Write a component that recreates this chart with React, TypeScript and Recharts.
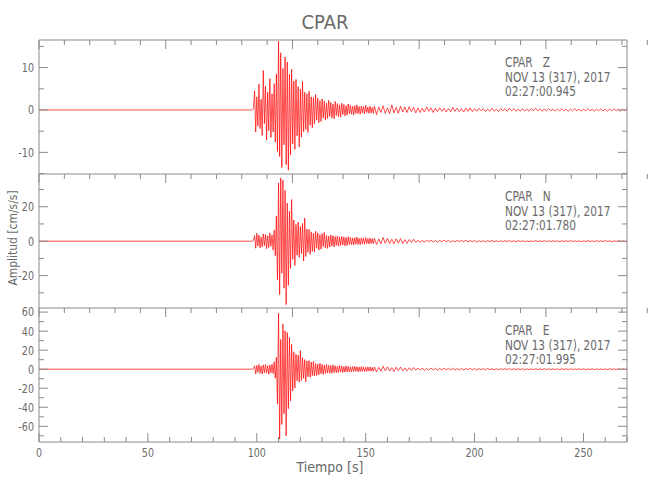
import { Line, LineChart, XAxis, YAxis } from "recharts"

const FONT = "'DejaVu Sans Condensed', 'DejaVu Sans', sans-serif"
const AXIS = "#8a8a8a"
const INK = "#6a6a6a"
const TRACE = "#ff0000"

const STATION = "CPAR"
const DATE_LINE = "NOV 13 (317), 2017"

const X_TICKS = [0, 10, 20, 30, 40, 50, 60, 70, 80, 90, 100, 110, 120, 130, 140, 150, 160, 170, 180, 190, 200, 210, 220, 230, 240, 250, 260, 270]
const X_MAJOR = [0, 50, 100, 150, 200, 250]

// burst: samples every 0.5 s starting at 96.5 s; tail: every 1 s starting at 154 s
const BURST_T0 = 96.5
const BURST_DT = 0.5
const TAIL_T0 = 154
const TAIL_DT = 1

const zBurst = [
  0, 0, 0, 0, 0.3,
  4.5, -5.2, 3.1, -3.8, 6.1, -4.4, 2.5, -6.0, 9.3, -3.2,
  5.6, -7.1, 4.2, -4.9, 7.4, -6.5, 3.8, -5.2, 6.2, -7.6,
  8.5, -9.8, 16.2, -11.0, 13.5, -13.6, 9.8, -8.2, 12.5, -12.9,
  11.3, -14.2, 8.4, -10.6, 9.6, -8.0, 6.8, -9.3, 7.2, -6.1,
  5.5, -8.7, 4.9, -6.4, 6.7, -5.1, 4.2, -4.6, 3.8, -5.3,
  4.4, -3.6, 3.1, -4.2, 2.9, -3.3, 3.6, -2.4, 2.8, -3.0,
  2.2, -2.7, 2.6, -1.9, 2.1, -2.4, 1.6, -2.0, 2.3, -1.5,
  1.8, -1.9, 1.4, -2.1, 2.0, -1.3, 1.5, -1.6, 1.2, -1.7,
  1.6, -1.1, 1.3, -1.4, 1.0, -1.2, 1.4, -0.9, 1.1, -1.0,
  0.9, -1.2, 1.0, -0.8, 1.2, -0.9, 0.8, -1.0, 0.9, -0.7,
  0.8, -0.9, 1.1, -0.6, 0.7, -0.8, 0.9, -0.7, 0.6, -0.8,
]
const zTail = [
  0.9, -1.1, 0.7, -0.6, 1.0, -0.8, 0.5, -0.9, 1.2, -0.7,
  0.6, -0.8, 0.9, -0.5, 0.7, -0.6, 0.8, -0.4, 0.6, -0.7,
  0.5, -0.6, 0.4, -0.5, 0.7, -0.3, 0.5, -0.6, 0.4, -0.4,
  0.5, -0.3, 0.4, -0.5, 0.3, -0.4, 0.6, -0.3, 0.4, -0.4,
  0.3, -0.5, 0.4, -0.3, 0.5, -0.4, 0.3, -0.3, 0.4, -0.2,
  0.3, -0.4, 0.2, -0.3, 0.4, -0.3, 0.2, -0.4, 0.3, -0.2,
  0.3, -0.3, 0.4, -0.2, 0.3, -0.3, 0.2, -0.3, 0.3, -0.2,
  0.2, -0.3, 0.3, -0.2, 0.4, -0.2, 0.3, -0.3, 0.2, -0.2,
  0.3, -0.2, 0.2, -0.3, 0.2, -0.2, 0.3, -0.2, 0.2, -0.3,
  0.2, -0.2, 0.3, -0.2, 0.2, -0.3, 0.2, -0.2, 0.3, -0.2,
  0.2, -0.3, 0.2, -0.2, 0.3, -0.2, 0.2, -0.3, 0.2, -0.2,
  0.3, -0.2, 0.2, -0.3, 0.2, -0.2, 0.3,
]

const nBurst = [
  0, 0, 0, 0, 0.5,
  3.2, -4.1, 4.6, -2.8, 3.5, -3.9, 2.4, -3.3, 4.2, -2.6,
  3.9, -4.4, 3.1, -3.7, 4.8, -2.9, 3.6, -5.2, 6.4, -8.5,
  14.6, -22.4, 33.8, -31.0, 36.7, -18.6, 35.4, -27.3, 29.5, -36.8,
  22.1, -25.6, 17.4, -15.8, 24.2, -10.6, 12.3, -14.1, 9.7, -8.2,
  11.1, -9.4, 8.6, -7.2, 10.3, -11.5, 13.4, -8.9, 7.1, -6.4,
  6.8, -7.7, 5.4, -5.9, 4.6, -6.3, 5.8, -4.1, 4.9, -5.2,
  3.8, -4.6, 4.4, -3.2, 5.1, -3.9, 3.3, -4.2, 2.9, -3.4,
  3.6, -2.8, 3.1, -3.3, 2.7, -2.5, 3.0, -2.9, 2.4, -2.6,
  2.8, -2.2, 2.5, -2.7, 2.1, -2.4, 2.6, -1.9, 2.2, -2.0,
  1.9, -2.3, 2.0, -1.7, 2.4, -1.8, 1.6, -2.1, 1.9, -1.5,
  1.7, -1.8, 2.1, -1.4, 1.5, -1.6, 1.8, -1.3, 1.4, -1.5,
]
const nTail = [
  1.6, -1.9, 1.3, -1.5, 2.1, -1.2, 1.7, -1.4, 1.1, -1.6,
  1.4, -1.1, 1.5, -1.3, 0.9, -1.2, 1.0, -0.8, 1.1, -0.7,
  0.6, -0.8, 0.5, -0.6, 0.7, -0.4, 0.6, -0.5, 0.4, -0.6,
  0.5, -0.4, 0.6, -0.3, 0.4, -0.5, 0.3, -0.4, 0.5, -0.3,
  0.4, -0.3, 0.5, -0.4, 0.3, -0.3, 0.4, -0.5, 0.3, -0.3,
  0.3, -0.4, 0.3, -0.2, 0.4, -0.3, 0.2, -0.3, 0.3, -0.3,
  0.3, -0.2, 0.3, -0.3, 0.2, -0.3, 0.3, -0.2, 0.2, -0.3,
  0.2, -0.3, 0.2, -0.2, 0.3, -0.2, 0.2, -0.2, 0.3, -0.2,
  0.2, -0.2, 0.3, -0.2, 0.2, -0.3, 0.2, -0.2, 0.2, -0.2,
  0.3, -0.2, 0.2, -0.2, 0.2, -0.3, 0.2, -0.2, 0.3, -0.2,
  0.2, -0.2, 0.3, -0.2, 0.2, -0.2, 0.3, -0.2, 0.2, -0.3,
  0.2, -0.2, 0.3, -0.2, 0.2, -0.3, 0.2,
]

const eBurst = [
  0, 0, 0, 0, 0.6,
  3.5, -4.8, 4.1, -3.2, 5.0, -4.3, 3.4, -5.1, 4.6, -3.7,
  4.9, -4.1, 3.6, -5.3, 4.4, -3.8, 5.2, -4.6, 7.8, -9.5,
  12.4, -36.5, 58.7, -73.4, 31.2, -58.1, 47.5, -46.8, 40.3, -70.2,
  38.6, -41.5, 33.2, -33.4, 26.1, -22.8, 18.4, -19.7, 15.6, -12.1,
  14.8, -13.6, 19.6, -11.8, 12.2, -9.6, 10.1, -13.2, 8.7, -7.9,
  9.1, -8.4, 7.6, -6.8, 8.3, -7.2, 6.1, -6.6, 5.4, -5.9,
  6.2, -4.8, 5.1, -5.5, 4.3, -4.6, 4.9, -3.9, 4.1, -4.4,
  3.8, -4.2, 4.5, -3.3, 3.6, -3.8, 3.1, -3.5, 3.9, -2.9,
  3.2, -3.4, 2.8, -3.1, 3.5, -2.6, 2.9, -3.0, 2.5, -2.8,
  2.7, -2.4, 3.1, -2.2, 2.6, -2.7, 2.3, -2.5, 2.8, -2.1,
  2.4, -2.6, 2.1, -2.3, 2.5, -1.9, 2.2, -2.0, 1.8, -2.1,
]
const eTail = [
  2.4, -2.8, 1.9, -2.2, 3.1, -1.7, 2.5, -2.0, 1.6, -2.6,
  2.1, -1.5, 2.3, -1.8, 1.4, -1.9, 1.6, -1.2, 1.7, -1.1,
  1.3, -1.0, 1.2, -1.4, 0.9, -1.1, 1.3, -0.8, 1.0, -1.2,
  0.9, -1.0, 1.1, -0.7, 0.9, -0.8, 1.0, -0.9, 0.7, -0.8,
  0.8, -0.9, 0.7, -0.6, 0.9, -0.7, 0.6, -0.8, 0.7, -0.6,
  0.7, -0.6, 0.8, -0.5, 0.6, -0.7, 0.5, -0.6, 0.7, -0.5,
  0.6, -0.5, 0.6, -0.6, 0.5, -0.5, 0.6, -0.4, 0.5, -0.6,
  0.5, -0.5, 0.4, -0.6, 0.5, -0.4, 0.5, -0.5, 0.6, -0.4,
  0.5, -0.4, 0.5, -0.5, 0.4, -0.5, 0.4, -0.4, 0.5, -0.4,
  0.4, -0.5, 0.4, -0.4, 0.5, -0.4, 0.4, -0.5, 0.4, -0.4,
  0.5, -0.4, 0.4, -0.4, 0.4, -0.5, 0.4, -0.4, 0.5, -0.4,
  0.4, -0.4, 0.5, -0.4, 0.4, -0.4, 0.4,
]

const zTicks = [-15, -10, -5, 0, 5, 10, 15]
const zMajor = [-10, 0, 10]
const nTicks = [-30, -20, -10, 0, 10, 20, 30]
const nMajor = [-20, 0, 20]
const eTicks = [-70, -60, -50, -40, -30, -20, -10, 0, 10, 20, 30, 40, 50, 60]
const eMajor = [-60, -40, -20, 0, 20, 40, 60]

const channels = [
  { comp: "Z", start: "02:27:00.945", burst: zBurst, tail: zTail, domain: [-15.1, 16.5], ticks: zTicks, major: zMajor },
  { comp: "N", start: "02:27:01.780", burst: nBurst, tail: nTail, domain: [-38.8, 39], ticks: nTicks, major: nMajor },
  { comp: "E", start: "02:27:01.995", burst: eBurst, tail: eTail, domain: [-76.5, 64.3], ticks: eTicks, major: eMajor },
]

const PANEL_TOP = 40
const PANEL_H = 134
const PAD = 10
const PLOT_LEFT = 39
const PLOT_RIGHT = 23
const XAXIS_H = 40

function buildTrace(burst: number[], tail: number[]) {
  return [
    { t: 0, v: 0 },
    ...burst.map((v, i) => ({ t: BURST_T0 + i * BURST_DT, v })),
    ...tail.map((v, i) => ({ t: TAIL_T0 + i * TAIL_DT, v })),
  ]
}

// narrow tick label, squeezed horizontally to mimic the thin plotting font
function TickText({ x, y, anchor, children }: any) {
  return (
    <text
      transform={`translate(${x},${y}) scale(0.82,1)`}
      textAnchor={anchor}
      dominantBaseline="central"
      fill={INK}
      fontSize={13}
      fontFamily={FONT}
      fontStretch="condensed"
    >
      {children}
    </text>
  )
}

function LeftTick({ x, y, payload, major }: any) {
  const big = major.includes(payload.value)
  return (
    <g>
      <line x1={x} x2={x + (big ? 9 : 5)} y1={y} y2={y} stroke={AXIS} />
      {big && (
        <TickText x={x - 5} y={y} anchor="end">
          {payload.value}
        </TickText>
      )}
    </g>
  )
}

function RightTick({ x, y, payload, major }: any) {
  const big = major.includes(payload.value)
  return <line x1={x} x2={x - (big ? 9 : 5)} y1={y} y2={y} stroke={AXIS} />
}

function TopTick({ x, y, payload }: any) {
  const big = X_MAJOR.includes(payload.value)
  return <line x1={x} x2={x} y1={y} y2={y + (big ? 9 : 5)} stroke={AXIS} />
}

function BottomTick({ x, y, payload }: any) {
  const big = X_MAJOR.includes(payload.value)
  return (
    <g>
      <line x1={x} x2={x} y1={y} y2={y - (big ? 9 : 5)} stroke={AXIS} />
      {big && (
        <TickText x={x} y={y + 11} anchor="middle">
          {payload.value}
        </TickText>
      )}
    </g>
  )
}

function Panel({ ch, index }: { ch: (typeof channels)[number]; index: number }) {
  const last = index === channels.length - 1
  const data = buildTrace(ch.burst, ch.tail)
  const height = PANEL_H + 2 * PAD + (last ? XAXIS_H : 0)
  return (
    <div style={{ position: "absolute", left: 0, top: PANEL_TOP + index * PANEL_H - PAD }}>
      <LineChart
        width={650}
        height={height}
        data={data}
        margin={{ top: PAD, right: PLOT_RIGHT, bottom: PAD, left: 0 }}
        style={{ overflow: "visible" }}
      >
        <XAxis
          xAxisId="b"
          dataKey="t"
          type="number"
          domain={[0, 270]}
          ticks={X_TICKS}
          interval={0}
          height={last ? XAXIS_H : 0}
          tickSize={0}
          tickMargin={0}
          tickLine={false}
          axisLine={{ stroke: AXIS }}
          tick={last ? (p: any) => <BottomTick {...p} /> : false}
          allowDataOverflow
        />
        <XAxis
          xAxisId="t"
          orientation="top"
          mirror
          type="number"
          domain={[0, 270]}
          ticks={X_TICKS}
          interval={0}
          tickSize={0}
          tickMargin={0}
          tickLine={false}
          axisLine={{ stroke: AXIS }}
          tick={(p: any) => <TopTick {...p} />}
          allowDataOverflow
        />
        <YAxis
          yAxisId="l"
          type="number"
          domain={ch.domain}
          ticks={ch.ticks}
          interval={0}
          width={PLOT_LEFT}
          tickSize={0}
          tickMargin={0}
          tickLine={false}
          axisLine={{ stroke: AXIS }}
          tick={(p: any) => <LeftTick {...p} major={ch.major} />}
          allowDataOverflow
        />
        <YAxis
          yAxisId="r"
          orientation="right"
          mirror
          type="number"
          domain={ch.domain}
          ticks={ch.ticks}
          interval={0}
          width={10}
          tickSize={0}
          tickMargin={0}
          tickLine={false}
          axisLine={{ stroke: AXIS }}
          tick={(p: any) => <RightTick {...p} major={ch.major} />}
          allowDataOverflow
        />
        <Line
          xAxisId="b"
          yAxisId="l"
          dataKey="v"
          type="linear"
          stroke={TRACE}
          strokeWidth={0.7}
          dot={false}
          isAnimationActive={false}
        />
      </LineChart>
      <div
        style={{
          position: "absolute",
          left: 505,
          top: PAD + 15,
          fontSize: 14,
          lineHeight: "14.5px",
          color: INK,
          whiteSpace: "pre",
          transform: "scaleX(0.84)",
          transformOrigin: "left top",
        }}
      >
        {`${STATION}   ${ch.comp}\n${DATE_LINE}\n${ch.start}`}
      </div>
    </div>
  )
}

export default function App() {
  return (
    <div
      style={{
        position: "absolute",
        left: 0,
        top: 0,
        width: 650,
        height: 500,
        background: "#fff",
        fontFamily: FONT,
        fontStretch: "condensed",
      }}
    >
      <div style={{ position: "absolute", left: 0, width: 650, top: 10, textAlign: "center", fontSize: 20, color: INK }}>
        {STATION}
      </div>
      {channels.map((ch, i) => (
        <Panel key={ch.comp} ch={ch} index={i} />
      ))}
      <div
        style={{
          position: "absolute",
          left: 12,
          top: 238,
          transform: "translate(-50%, -50%) rotate(-90deg) scaleX(0.92)",
          whiteSpace: "pre",
          fontSize: 13,
          lineHeight: "13px",
          color: INK,
        }}
      >
        {"Amplitud [cm/s/s]"}
      </div>
      <div style={{ position: "absolute", left: 0, width: 660, top: 459, textAlign: "center", fontSize: 14, color: INK }}>
        {"Tiempo [s]"}
      </div>
    </div>
  )
}
